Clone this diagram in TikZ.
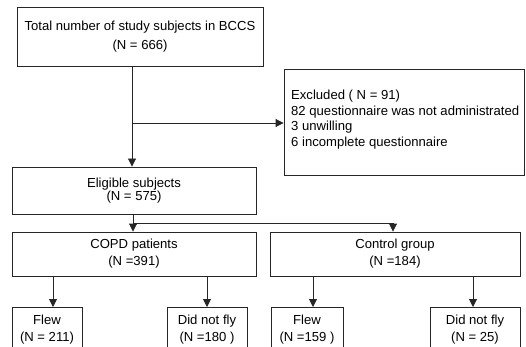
\documentclass[tikz,border=0pt]{standalone}
\usepackage{fontspec}
\setmainfont{Liberation Sans}
\usetikzlibrary{arrows.meta}
\begin{document}
\begin{tikzpicture}[x=1pt,y=-1pt,
  box/.style={draw=black!85,line width=0.9pt,rectangle,inner sep=0pt,align=center},
  arr/.style={draw=black!85,line width=0.9pt,-{Triangle[length=8pt,width=8pt]}},
  ln/.style={draw=black!85,line width=0.9pt},
  every node/.style={font=\fontsize{13.1}{16}\selectfont}]
\useasboundingbox (0,0) rectangle (526,347);
\clip (0,0) rectangle (526,347);
\fill[white] (0,0) rectangle (526,347);
% boxes
\node[box,minimum width=246pt,minimum height=59pt,font=\fontsize{13.1}{19}\selectfont] (top) at (140,36.5) {Total number of study subjects in BCCS\\(N = 666)};
\node[box,minimum width=240pt,minimum height=106pt] (excl) at (404,122) {};
\node[anchor=west,align=left,inner sep=0pt,font=\fontsize{13.1}{15.7}\selectfont] (excltext) at (291,119.5) {Excluded ( N = 91)\\82 questionnaire was not administrated\\3 unwilling\\6 incomplete questionnaire};
\node[box,minimum width=244pt,minimum height=47pt,font=\fontsize{13.1}{13}\selectfont] (elig) at (134,190.5) {Eligible subjects\\(N = 575)};
\node[box,minimum width=244pt,minimum height=44pt,font=\fontsize{13.1}{17}\selectfont] (copd) at (134,254) {COPD patients\\(N =391)};
\node[box,minimum width=250pt,minimum height=44pt,font=\fontsize{13.1}{17}\selectfont] (ctrl) at (395,254) {Control group\\(N =184)};
\node[box,minimum width=70pt,minimum height=45pt,anchor=north,font=\fontsize{13.1}{17}\selectfont] (f1) at (47,307) {Flew\\(N = 211)};
\node[box,minimum width=80pt,minimum height=45pt,anchor=north,font=\fontsize{13.1}{17}\selectfont] (d1) at (207,307) {Did not fly\\(N =180 )};
\node[box,minimum width=72pt,minimum height=45pt,anchor=north,font=\fontsize{13.1}{17}\selectfont] (f2) at (307,307) {Flew\\(N =159 )};
\node[box,minimum width=90pt,minimum height=45pt,anchor=north,font=\fontsize{13.1}{17}\selectfont] (d2) at (475,307) {Did not fly\\(N = 25)};
% junctions
\coordinate (j1) at (132,123);
\coordinate (j2) at (133,223);
\coordinate (j3) at (393,223);
\coordinate (a1) at (53,0);
\coordinate (a2) at (207,0);
\coordinate (a3) at (313,0);
\coordinate (a4) at (473,0);
% connectors
\draw[arr] (top.south -| j1) -- (elig.north -| j1);
\draw[arr] (j1) -- (excl.west |- j1);
\draw[ln] (elig.south -| j2) -- (j2);
\draw[arr] (j2) -- (copd.north -| j2);
\draw[arr] (j2) -- (j3) -- (ctrl.north -| j3);
\draw[arr] (copd.south -| a1) -- (f1.north -| a1);
\draw[arr] (copd.south -| a2) -- (d1.north -| a2);
\draw[arr] (ctrl.south -| a3) -- (f2.north -| a3);
\draw[arr] (ctrl.south -| a4) -- (d2.north -| a4);
\end{tikzpicture}
\end{document}
